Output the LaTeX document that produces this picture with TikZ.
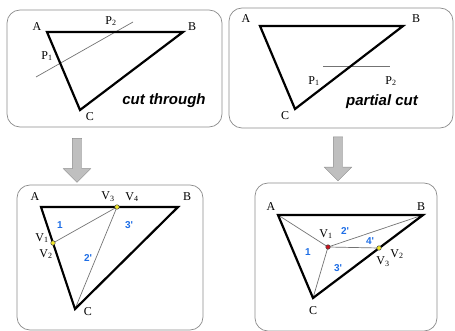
\documentclass[tikz,border=0pt]{standalone}
\usepackage{fontspec}
\setmainfont{Liberation Serif}
\newfontfamily\labelfont{Liberation Sans}
\usepackage{tikz}
\definecolor{numblue}{RGB}{30, 110, 230}
\definecolor{dotyellow}{RGB}{240, 230, 40}
\definecolor{dotred}{RGB}{200, 20, 30}
\usetikzlibrary{shapes,arrows}
\tikzstyle{kante} = [draw, line width=2.2pt, line join=miter]
\tikzstyle{schnitt} = [draw, black!55, line width=0.7pt]
\tikzstyle{rahmen} = [draw, black!45, line width=0.7pt, rounded corners=13pt, inner sep=0pt]
\tikzstyle{pfeil} = [single arrow, shape border rotate=270, draw=black!45, fill=black!25,
  inner sep=4.5pt, minimum height=44pt, single arrow head extend=9pt]
\begin{document}
\begin{tikzpicture}[x=1pt, y=-1pt,
			font=\fontsize{12}{14}\selectfont,
			lab/.style={inner sep=0pt},
			nr/.style={inner sep=0pt, text=numblue, font=\labelfont\bfseries\fontsize{10}{11}\selectfont},
			titel/.style={inner sep=0pt, font=\labelfont\bfseries\itshape\fontsize{15}{18}\selectfont},
			punkt/.style={circle, draw=black!70, line width=0.5pt, inner sep=0pt, minimum size=4.5pt}]
			\useasboundingbox (0,0) rectangle (455,331); %Bildbereich
			% Rahmen
			\node[rahmen, minimum width=215pt, minimum height=117pt] (box1) at (114.5,68.5) {};
			\node[rahmen, minimum width=224pt, minimum height=120pt] (box2) at (341,68) {};
			\node[rahmen, minimum width=186pt, minimum height=145pt] (box3) at (110,257.5) {};
			\node[rahmen, minimum width=182pt, minimum height=148pt] (box4) at (346,257) {};
			% Pfeile
			\node[pfeil] (pfeil1) at (77,158) {};
			\node[pfeil] (pfeil2) at (338,156.5) {};
			% Bild 1: cut through
			\coordinate (A1) at (47,32);
			\coordinate (B1) at (183,32);
			\coordinate (C1) at (80,110);
			\coordinate (P11) at (36,77);
			\coordinate (P12) at (133,22);
			\draw[schnitt] (P11) -- (P12);
			\draw[kante] (A1) -- (B1) -- (C1) -- cycle;
			\node[lab] (lA1) at (37,27) {A};
			\node[lab] (lB1) at (192,27) {B};
			\node[lab] (lC1) at (90,117) {C};
			\node[lab] (lP11) at (47,56) {P\textsubscript{1}};
			\node[lab] (lP12) at (111,21) {P\textsubscript{2}};
			\node[titel] (t1) at (164,101) {cut through};
			% Bild 2: partial cut
			\coordinate (A2) at (260,26);
			\coordinate (B2) at (403,26);
			\coordinate (C2) at (295,109);
			\coordinate (P21) at (323,66);
			\coordinate (P22) at (390,66);
			\draw[schnitt] (P21) -- (P22);
			\draw[kante] (A2) -- (B2) -- (C2) -- cycle;
			\node[lab] (lA2) at (246,19) {A};
			\node[lab] (lB2) at (416,19) {B};
			\node[lab] (lC2) at (285,116) {C};
			\node[lab] (lP21) at (314,81) {P\textsubscript{1}};
			\node[lab] (lP22) at (391,81) {P\textsubscript{2}};
			\node[titel] (t2) at (382,102) {partial cut};
			% Bild 3: Zerlegung cut through
			\coordinate (A3) at (41,207);
			\coordinate (B3) at (178,207);
			\coordinate (C3) at (75,309);
			\coordinate (V12) at (53,243);
			\coordinate (V34) at (117,207);
			\draw[schnitt] (V12) -- (V34) -- (C3);
			\draw[kante] (A3) -- (B3) -- (C3) -- cycle;
			\node[punkt, fill=dotyellow] (d12) at (V12) {};
			\node[punkt, fill=dotyellow] (d34) at (V34) {};
			\node[lab] (lA3) at (35,197) {A};
			\node[lab] (lB3) at (187,197) {B};
			\node[lab] (lC3) at (88,312) {C};
			\node[lab] (lV1) at (42,238) {V\textsubscript{1}};
			\node[lab] (lV2) at (46,254) {V\textsubscript{2}};
			\node[lab] (lV3) at (108,197) {V\textsubscript{3}};
			\node[lab] (lV4) at (132,197) {V\textsubscript{4}};
			\node[nr] (n31) at (60,225) {1};
			\node[nr] (n32) at (88,258) {2\textquotesingle};
			\node[nr] (n33) at (129,225) {3\textquotesingle};
			% Bild 4: Zerlegung partial cut
			\coordinate (A4) at (278,215);
			\coordinate (B4) at (423,215);
			\coordinate (C4) at (313,298);
			\coordinate (W1) at (328,247);
			\coordinate (W23) at (379,248);
			\draw[schnitt] (A4) -- (W1) -- (B4);
			\draw[schnitt] (C4) -- (W1) -- (W23);
			\draw[kante] (A4) -- (B4) -- (C4) -- cycle;
			\node[punkt, fill=dotred] (d1) at (W1) {};
			\node[punkt, fill=dotyellow] (d23) at (W23) {};
			\node[lab] (lA4) at (271,207) {A};
			\node[lab] (lB4) at (421,207) {B};
			\node[lab] (lC4) at (313,311) {C};
			\node[lab] (lW1) at (326,234) {V\textsubscript{1}};
			\node[lab] (lW2) at (397,254) {V\textsubscript{2}};
			\node[lab] (lW3) at (383,262) {V\textsubscript{3}};
			\node[nr] (n41) at (308,252) {1};
			\node[nr] (n42) at (345,231) {2\textquotesingle};
			\node[nr] (n43) at (338,268) {3\textquotesingle};
			\node[nr] (n44) at (370,241) {4\textquotesingle};
		\end{tikzpicture}
\end{document}
